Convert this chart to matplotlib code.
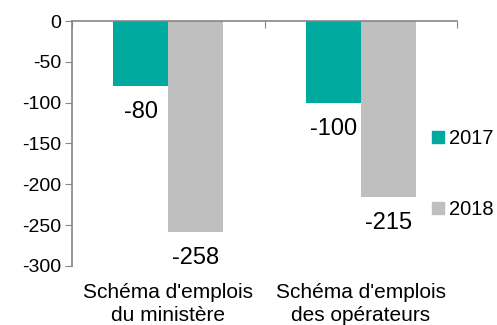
import matplotlib.pyplot as plt
import matplotlib.transforms as mtransforms
from matplotlib.lines import Line2D
import numpy as np

plt.rcParams['font.family'] = ['Liberation Sans', 'DejaVu Sans']
plt.rcParams['axes.unicode_minus'] = False

categories = ["Schéma d'emplois\ndu ministère", "Schéma d'emplois\ndes opérateurs"]
series = ["2017", "2018"]
values_2017 = [-80, -100]
values_2018 = [-258, -215]
colors = ["#00A99D", "#BFBFBF"]
axis_grey = "#868686"

fig = plt.figure(figsize=(4.97, 3.25), dpi=100)
ax = fig.add_axes([0.145, 0.182, 0.775, 0.753])

x = np.arange(len(categories))
w = 0.285
for vals, off, col in [(values_2017, -w / 2, colors[0]), (values_2018, w / 2, colors[1])]:
    ax.bar(x + off, vals, width=w, color=col, zorder=2)
    for xi, v in zip(x, vals):
        ax.annotate(str(v), (xi + off, v), xytext=(0, -26), textcoords='offset pixels',
                    ha='center', va='center', fontsize=17, color='#000000')

ax.set_xlim(-0.5, 1.5)
ax.set_ylim(-300, 0)
ax.set_yticks(range(-300, 1, 50))
ax.tick_params(axis='y', labelsize=14, length=5, color=axis_grey, pad=3)

ax.set_xticks([-0.5, 0.5, 1.5])
ax.tick_params(axis='x', bottom=False, top=True, direction='in', length=5,
               color=axis_grey, labelbottom=False, labeltop=False)

for s in ['bottom', 'right']:
    ax.spines[s].set_visible(False)
for s in ['left', 'top']:
    ax.spines[s].set_color(axis_grey)
    ax.spines[s].set_linewidth(1.2)

trans = mtransforms.blended_transform_factory(ax.transData, ax.transAxes)
for xi, lab in zip(x, categories):
    ax.text(xi, -0.072, lab, transform=trans, ha='center', va='top',
            fontsize=15, linespacing=1.22)

handles = [Line2D([], [], marker='s', linestyle='none', markersize=8,
                  markerfacecolor=c, markeredgecolor=c) for c in colors]
fig.legend(handles, series, loc='center left', bbox_to_anchor=(0.865, 0.465),
           frameon=False, fontsize=14.5, handletextpad=0.13, labelspacing=2.6,
           handlelength=0.8, borderpad=0, borderaxespad=0)

fig.savefig('out.png', dpi=100)
